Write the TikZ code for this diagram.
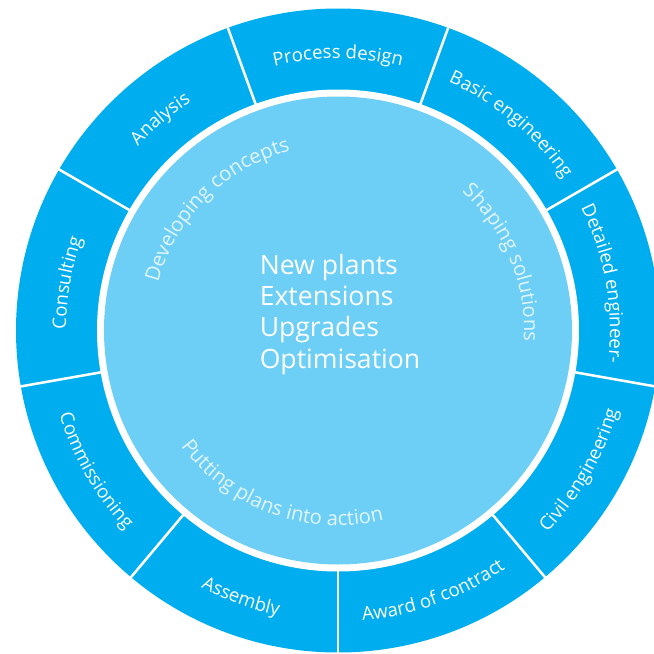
\documentclass[tikz,border=0pt]{standalone}
\usepackage{fontspec}
\setmainfont{Open Sans}
\usetikzlibrary{decorations.text}

\definecolor{ringblue}{RGB}{0,174,239}
\definecolor{coreblue}{RGB}{109,207,246}
\definecolor{phasetext}{RGB}{226,245,253}

\newcommand{\ringfont}{\fontsize{13.2}{15}\selectfont}
\newcommand{\phasefont}{\fontsize{14.4}{16}\selectfont}
\newcommand{\corefont}{\fontsize{18.9}{22.3}\selectfont}

\begin{document}
\begin{tikzpicture}[
    x=0.025cm, y=0.025cm,
    outlabel/.style={decorate, decoration={text along path, text align=center, text color=white, text={|\ringfont|#1}}},
    phase/.style={decorate, decoration={text along path, text align=center, text color=phasetext, text={|\phasefont|#1}}},
    core/.style={anchor=base west, inner sep=0pt, text=white, font=\corefont},
    divider/.style={draw=white, line width=1.8pt}
]
\useasboundingbox (-338,-323.5) rectangle (316,330.5);

% Ring, gap and core
\fill[ringblue] (0,0) circle[radius=322];
\fill[white] (0,0) circle[radius=241];
\fill[coreblue] (0,0) circle[radius=234];

% White dividers between the nine segments
\foreach \a in {-90,-50,...,230}
  \draw[divider] (\a:238) -- (\a:330);

% Segment labels, upper half (letters facing out)
\path[outlabel=Process design] (120:272) arc[start angle=120, end angle=60, radius=272];
\path[outlabel=Basic engineering] (80:272) arc[start angle=80, end angle=20, radius=272];
\path[outlabel=Detailed engineer-] (40:272) arc[start angle=40, end angle=-20, radius=272];
\path[outlabel=Consulting] (200:272) arc[start angle=200, end angle=140, radius=272];
\path[outlabel=Analysis] (160:272) arc[start angle=160, end angle=100, radius=272];

% Segment labels, lower half (letters facing in)
\path[outlabel=Civil engineering] (-60:291) arc[start angle=-60, end angle=0, radius=291];
\path[outlabel=Award of contract] (-100:291) arc[start angle=-100, end angle=-40, radius=291];
\path[outlabel=Assembly] (-140:291) arc[start angle=-140, end angle=-80, radius=291];
\path[outlabel=Commissioning] (-180:291) arc[start angle=-180, end angle=-120, radius=291];

% Phases round the core
\path[phase=Developing concepts] (180:186) arc[start angle=180, end angle=90, radius=186];
\path[phase=Shaping solutions] (67:186) arc[start angle=67, end angle=-22, radius=186];
\path[phase=Putting plans into action] (-160:195) arc[start angle=-160, end angle=-60, radius=195];

% Core text
\node[core] (newplants) at (-78.5,56.2) {New plants};
\node[core] (extensions) at (-78.5,24.9) {Extensions};
\node[core] (upgrades) at (-78.5,-6.4) {Upgrades};
\node[core] (optimisation) at (-78.5,-37.7) {Optimisation};

\end{tikzpicture}
\end{document}
